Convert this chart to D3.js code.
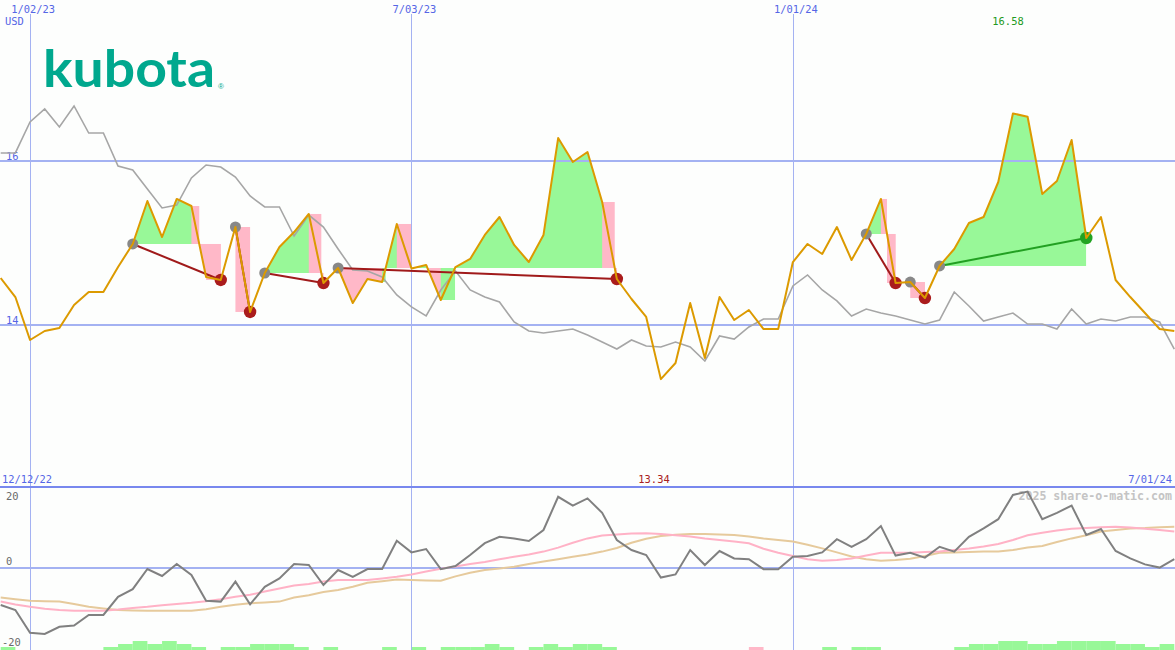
<!DOCTYPE html>
<html><head><meta charset="utf-8">
<script src="https://cdn.jsdelivr.net/npm/d3@7"></script>
<style>body{margin:0;background:#fdfefd;} svg{display:block}</style>
</head><body><svg id="c" width="1175" height="650"></svg>
<script>
// ---------- data ----------
const startDate = "2022-12-19"; // first weekly close shown
const price = [14.573,14.341,13.817,13.927,13.963,14.244,14.402,14.402,14.707,14.988,
 15.512,15.073,15.537,15.451,14.585,14.549,15.195,14.159,14.634,14.951,
 15.134,15.354,14.512,14.695,14.268,14.561,14.524,15.232,14.690,14.732,
 14.305,14.707,14.805,15.098,15.317,14.976,14.768,15.098,16.280,15.988,
 16.110,15.500,14.561,14.317,14.098,13.340,13.537,14.268,13.598,14.341,
 14.061,14.183,13.951,13.951,14.768,14.988,14.866,15.195,14.793,15.110,
 15.537,14.512,14.524,14.329,14.720,14.927,15.244,15.317,15.744,16.580,
 16.540,15.598,15.756,16.256,15.061,15.317,14.549,14.341,14.146,13.951,13.927];
const compare = [16.098,16.098,16.476,16.634,16.415,16.671,16.341,16.341,15.939,15.890,
 15.659,15.427,15.463,15.793,15.951,15.927,15.805,15.573,15.439,15.439,
 15.085,15.341,15.195,14.927,14.671,14.659,14.585,14.366,14.220,14.110,
 14.427,14.659,14.427,14.341,14.280,14.037,13.927,13.902,13.927,13.951,
 13.878,13.793,13.707,13.817,13.744,13.732,13.793,13.732,13.561,13.866,
 13.829,13.976,14.073,14.073,14.476,14.610,14.427,14.293,14.110,14.195,
 14.146,14.110,14.061,14.012,14.061,14.402,14.232,14.049,14.098,14.146,
 14.012,14.012,13.951,14.195,14.012,14.073,14.049,14.098,14.098,14.037,13.707];
const momentum = [-9.25,-10.5,-16.2,-16.5,-14.7,-14.4,-11.75,-11.75,-7.2,-5.3,
 -0.25,-2.0,1.0,-1.75,-8.2,-8.4,-3.4,-9.1,-4.7,-2.6,
 1.0,0.75,-4.25,-0.5,-2.2,-0.25,-0.25,6.8,3.9,4.75,
 -0.3,0.5,3.25,6.2,7.8,7.4,6.75,9.5,17.8,15.6,
 17.4,13.8,7.0,4.5,3.25,-2.4,-1.6,4.5,0.75,4.25,
 2.4,2.2,-0.3,-0.3,2.8,3.0,3.9,7.2,5.3,7.2,
 10.5,3.1,3.8,2.6,5.3,4.1,7.8,9.9,12.2,18.25,
 19.1,12.2,13.8,15.6,8.25,9.75,4.25,2.4,0.9,0.1,2.2];
const maFast = [-8.4,-9.1,-9.7,-10.2,-10.5,-10.7,-10.7,-10.7,-10.4,-10.0,
 -9.7,-9.3,-9.0,-8.7,-8.3,-7.8,-7.2,-6.7,-5.9,-5.1,
 -4.4,-4.0,-3.4,-3.0,-3.0,-3.0,-2.6,-2.2,-1.6,-0.9,
 -0.2,0.4,1.0,1.5,2.2,2.8,3.4,4.1,5.1,6.3,
 7.4,8.1,8.4,8.6,8.7,8.5,8.2,7.9,7.4,7.0,
 6.6,6.2,4.8,3.8,3.0,2.2,1.8,2.0,2.4,3.1,
 3.8,3.8,3.8,4.0,4.1,4.5,4.9,5.4,6.0,7.0,
 8.2,8.8,9.4,9.8,10.0,10.2,10.3,10.1,9.8,9.5,9.1];
const maSlow = [-7.4,-7.8,-8.2,-8.3,-8.4,-9.0,-9.7,-10.1,-10.5,-10.6,
 -10.7,-10.7,-10.7,-10.7,-10.3,-9.7,-9.2,-8.8,-8.6,-8.4,
 -7.4,-6.8,-6.0,-5.5,-4.7,-3.7,-3.3,-2.9,-3.0,-3.1,
 -3.2,-2.1,-1.2,-0.5,-0.1,0.3,1.0,1.6,2.2,2.8,
 3.4,4.1,5.0,6.3,7.3,8.0,8.3,8.5,8.5,8.4,
 8.25,7.9,7.4,7.0,6.6,5.8,4.9,3.9,2.9,2.2,
 1.8,2.0,2.3,3.0,3.8,3.9,4.0,4.1,4.1,4.5,
 5.1,5.5,6.5,7.4,8.2,9.1,9.5,9.9,10.0,10.2,10.3];
const signalBars = [1,0,0,0,0,0,0,1,2,3,
 2,3,2,1,0,1,1,2,2,2,
 1,0,1,0,0,0,1,0,1,0,
 1,1,1,2,1,0,1,2,1,2,
 2,1,0,0,0,0,0,0,0,0,
 0,-1,0,0,0,0,1,0,1,1,
 0,0,0,0,0,1,2,2,3,3,
 2,2,3,3,3,3,2,2,1,2];
const trades = [[9,15],[16,17],[18,22],[23,42],[59,61],[62,63],[64,74]]; // [entry index, exit index]
const priceTicks = [14,16];
const oscTicks = [20,0,-20];
const dateTicks = ["2023-01-02","2023-07-03","2024-01-01"];
const rangeLabels = ["12/12/22","7/01/24"];
const maxLabel = "16.58", minLabel = "13.34";

// ---------- scales ----------
const svg = d3.select("#c");
const t0 = new Date(startDate + "T00:00:00Z");
const dates = price.map((_, i) => d3.utcDay.offset(t0, 7 * i));
const x = d3.scaleUtc().domain([dates[0], dates[dates.length - 1]]).range([0.7, 1174.3]);
const yP = d3.scaleLinear().domain([14, 16]).range([325, 161]);
const yO = d3.scaleLinear().domain([-20, 20]).range([648, 488]);
const hBar = d3.scaleLinear().domain([0, 3]).range([0, 9]);
const X = i => x(dates[i]);
const fmt = d3.utcFormat("%-m/%d/%y");

const GREEN = "#98f898", PINK = "#ffb8c8", GRID = "#a4b2f2", BLUE = "#5566e6";
const mono = "'DejaVu Sans Mono', monospace";

// ---------- logo ----------
svg.append("text").attr("x", 43).attr("y", 87).attr("font-family", "Lato, 'Open Sans', sans-serif")
  .attr("font-weight", 700).attr("font-size", 51).attr("fill", "#00a88e")
  .attr("textLength", 172).attr("lengthAdjust", "spacingAndGlyphs").text("kubota");
svg.append("text").attr("x", 218).attr("y", 89).attr("font-family", "sans-serif")
  .attr("font-size", 8).attr("fill", "#00a88e").text("®");

// ---------- trade fills ----------
const defs = svg.append("defs");
const fillG = svg.append("g");
const rectFill = (x0, x1, ya, yb, col) => {
  if (x1 - x0 <= 0) return;
  fillG.append("rect").attr("x", x0).attr("width", x1 - x0)
    .attr("y", Math.min(ya, yb)).attr("height", Math.abs(yb - ya)).attr("fill", col);
};
trades.forEach(([e, t], k) => {
  const E = price[e];
  const idx = d3.range(e, t + 1);
  const area = d3.area().x(i => X(i)).y0(yP(E)).y1(i => yP(price[i]));
  defs.append("clipPath").attr("id", "up" + k).append("rect")
    .attr("x", X(e)).attr("y", 0).attr("width", X(t) - X(e)).attr("height", yP(E));
  defs.append("clipPath").attr("id", "dn" + k).append("rect")
    .attr("x", X(e)).attr("y", yP(E)).attr("width", X(t) - X(e)).attr("height", 480 - yP(E));
  fillG.append("path").attr("d", area(idx)).attr("fill", GREEN).attr("clip-path", `url(#up${k})`);
  fillG.append("path").attr("d", area(idx)).attr("fill", PINK).attr("clip-path", `url(#dn${k})`);
  const crossX = i => {
    const a = price[i], b = price[i + 1];
    return X(i) + (E - a) / (b - a) * (X(i + 1) - X(i));
  };
  // weeks crossing the entry level: block up to the crossing, coloured by where the week ends
  for (let i = e; i < t; i++) {
    const a = price[i], b = price[i + 1];
    if (a > E && b < E) rectFill(X(i), crossX(i), yP(a), yP(E), PINK);
    else if (a < E && b > E) rectFill(X(i), crossX(i), yP(E), yP(a), GREEN);
  }
  // losing exit week: block below the entry level
  if (price[t] < E) {
    const a = price[t - 1];
    const x0 = a > E ? crossX(t - 1) : X(t - 1);
    rectFill(x0, X(t), yP(E), yP(price[t]), PINK);
  }
});

// ---------- bottom signal bars ----------
svg.append("g").selectAll("rect").data(signalBars.map((v, i) => ({v, i})).filter(d => d.v !== 0))
  .join("rect")
  .attr("x", d => X(d.i)).attr("width", d => X(d.i + 1) - X(d.i))
  .attr("y", d => 650 - hBar(Math.abs(d.v))).attr("height", d => hBar(Math.abs(d.v)))
  .attr("fill", d => d.v > 0 ? GREEN : PINK);

// ---------- grid ----------
const grid = svg.append("g");
grid.selectAll("line.h").data(priceTicks).join("line")
  .attr("x1", 0).attr("x2", 1175).attr("y1", d => yP(d)).attr("y2", d => yP(d))
  .attr("stroke", GRID).attr("stroke-width", 2);
grid.append("line").attr("x1", 0).attr("x2", 1175).attr("y1", yO(0)).attr("y2", yO(0))
  .attr("stroke", GRID).attr("stroke-width", 2);
grid.selectAll("line.v").data(dateTicks).join("line")
  .attr("x1", d => Math.round(x(new Date(d + "T00:00:00Z"))) + 0.5)
  .attr("x2", d => Math.round(x(new Date(d + "T00:00:00Z"))) + 0.5)
  .attr("y1", 14).attr("y2", 650).attr("stroke", GRID).attr("stroke-width", 1);
svg.append("line").attr("x1", 0).attr("x2", 1175).attr("y1", 487).attr("y2", 487)
  .attr("stroke", "#7888ee").attr("stroke-width", 2);

// ---------- texts ----------
const T = (tx, ty, s, opt = {}) => svg.append("text").attr("x", tx).attr("y", ty)
  .attr("font-family", mono).attr("font-size", opt.size || 10.4)
  .attr("font-weight", opt.weight || 400)
  .attr("text-anchor", opt.anchor || "start").attr("fill", opt.fill || BLUE).text(s);
dateTicks.forEach(d => T(x(new Date(d + "T00:00:00Z")) + 3, 13, fmt(new Date(d + "T00:00:00Z")), {anchor: "middle"}));
T(5, 25, "USD");
priceTicks.forEach(v => T(6, yP(v) - 1, String(v)));
T(2, 483, rangeLabels[0]);
T(1172, 483, rangeLabels[1], {anchor: "end"});
T(1008, 25, maxLabel, {anchor: "middle", fill: "#229a22"});
T(654, 483, minLabel, {anchor: "middle", fill: "#a82020"});
T(6, 500, String(oscTicks[0]), {fill: "#6a6a6a"});
T(6, 565, String(oscTicks[1]), {fill: "#6a6a6a"});
T(2, 646, String(oscTicks[2]), {fill: "#6a6a6a"});
T(1172, 500, "2025 share-o-matic.com", {anchor: "end", fill: "#c4c4c4", size: 11.6, weight: 700});

// ---------- lines ----------
const line = (arr, ys) => d3.line().x((_, i) => X(i)).y(v => ys(v))(arr);
svg.append("path").attr("d", line(compare, yP)).attr("fill", "none")
  .attr("stroke", "#a6a6a6").attr("stroke-width", 1.6);

// trade connectors
trades.forEach(([e, t]) => {
  svg.append("line").attr("x1", X(e)).attr("y1", yP(price[e])).attr("x2", X(t)).attr("y2", yP(price[t]))
    .attr("stroke", price[t] > price[e] ? "#22a022" : "#a01a1a").attr("stroke-width", 2);
});
// circles
trades.forEach(([e, t]) => {
  svg.append("circle").attr("cx", X(e)).attr("cy", yP(price[e])).attr("r", 5.5).attr("fill", "#888888");
  svg.append("circle").attr("cx", X(t)).attr("cy", yP(price[t])).attr("r", 6.2)
    .attr("fill", price[t] > price[e] ? "#22a322" : "#aa1c1c");
});
svg.append("path").attr("d", line(price, yP)).attr("fill", "none")
  .attr("stroke", "#dc9a00").attr("stroke-width", 2).attr("stroke-linejoin", "round");

// oscillator panel
svg.append("path").attr("d", line(maSlow, yO)).attr("fill", "none").attr("stroke", "#e6ca9c").attr("stroke-width", 2);
svg.append("path").attr("d", line(maFast, yO)).attr("fill", "none").attr("stroke", "#ffb2c6").attr("stroke-width", 2);
svg.append("path").attr("d", line(momentum, yO)).attr("fill", "none").attr("stroke", "#808080").attr("stroke-width", 2);
</script></body></html>
